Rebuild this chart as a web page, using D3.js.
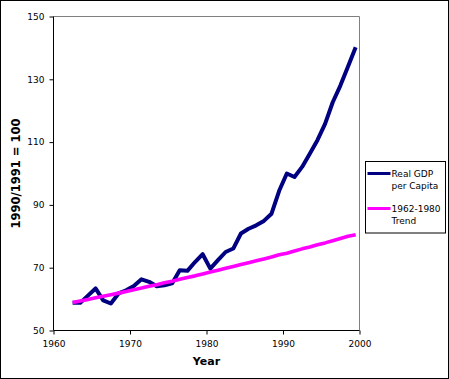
<!DOCTYPE html>
<html>
<head>
<meta charset="utf-8">
<script src="https://cdn.jsdelivr.net/npm/d3@7"></script>
<style>
  html, body { margin: 0; padding: 0; background: #fff; }
  svg { display: block; }
  text { font-family: "DejaVu Sans", sans-serif; }
</style>
</head>
<body>
<svg id="chart" width="449" height="379"></svg>
<script>
// ---- data ----
const years = [1962,1963,1964,1965,1966,1967,1968,1969,1970,1971,1972,1973,1974,1975,1976,1977,1978,1979,1980,
               1981,1982,1983,1984,1985,1986,1987,1988,1989,1990,1991,1992,1993,1994,1995,1996,1997,1998,1999];
const realGdp = [58.8,58.8,61.1,63.4,59.6,58.6,61.8,62.8,64.2,66.3,65.5,64.1,64.4,65.0,69.2,69.0,71.8,74.3,69.7,
                 72.4,75.0,76.1,80.9,82.4,83.5,84.9,87.2,94.5,100.0,98.9,102.1,106.3,110.6,115.8,122.7,128.0,134.1,140.2];
const trend = [58.9,59.4,59.9,60.4,60.9,61.4,61.9,62.4,63.0,63.5,64.1,64.6,65.2,65.7,66.3,66.9,67.4,68.0,68.6,
               69.2,69.8,70.4,71.0,71.6,72.2,72.8,73.4,74.1,74.6,75.3,76.0,76.6,77.3,77.9,78.6,79.3,80.0,80.5];
const xTicks = [1960, 1970, 1980, 1990, 2000];
const yTicks = [50, 70, 90, 110, 130, 150];
const seriesNames = ["Real GDP per Capita", "1962-1980 Trend"];
const legendLines = [["Real GDP", "per Capita"], ["1962-1980", "Trend"]];
const colors = ["#000080", "#FF00FF"];

// ---- layout ----
const svg = d3.select("#chart");
const L = 53.5, R = 359.5, T = 16.5, B = 330.5;
const x = d3.scaleLinear().domain([1960, 2000]).range([L, R]);
const y = d3.scaleLinear().domain([50, 150]).range([B, T]);

// outer frame
svg.append("rect").attr("x", 0.5).attr("y", 0.5).attr("width", 448).attr("height", 378)
  .attr("fill", "#fff").attr("stroke", "#000").attr("stroke-width", 1);

// plot area top/right border (gray)
svg.append("path")
  .attr("d", `M${L},${T}H${R}V${B}`)
  .attr("fill", "none").attr("stroke", "#808080").attr("stroke-width", 1);

// axes
const yAxis = svg.append("g").attr("transform", `translate(${L},0)`)
  .call(d3.axisLeft(y).tickValues(yTicks).tickSize(4).tickSizeOuter(0).tickPadding(5));
const xAxis = svg.append("g").attr("transform", `translate(0,${B})`)
  .call(d3.axisBottom(x).tickValues(xTicks).tickFormat(d3.format("d")).tickSize(4).tickSizeOuter(0).tickPadding(6));
[yAxis, xAxis].forEach(g => {
  g.selectAll("text").attr("font-family", "DejaVu Sans, sans-serif").attr("font-size", 9).attr("fill", "#000");
  g.selectAll("line").attr("stroke", "#000");
  g.select(".domain").attr("stroke", "#000");
});
yAxis.select(".domain").attr("d", `M0,${B}V${T}`);
xAxis.select(".domain").attr("d", `M${L},0H${R}`);

// axis titles
svg.append("text")
  .attr("transform", `translate(19.5,${(T + B) / 2}) rotate(-90)`)
  .attr("text-anchor", "middle")
  .attr("font-size", 11.5).attr("font-weight", "bold")
  .text("1990/1991 = 100");
svg.append("text")
  .attr("x", (L + R) / 2).attr("y", 365)
  .attr("text-anchor", "middle")
  .attr("font-size", 11).attr("font-weight", "bold")
  .text("Year");

// lines (plotted at mid-year)
const line = d3.line().x(d => x(d[0] + 0.5)).y(d => y(d[1]));
const series = [realGdp, trend];
series.forEach((vals, i) => {
  svg.append("path")
    .datum(years.map((yr, j) => [yr, vals[j]]))
    .attr("d", line)
    .attr("fill", "none")
    .attr("stroke", colors[i])
    .attr("stroke-width", i === 0 ? 4 : 3.6)
    .attr("stroke-linejoin", "round");
});

// legend
const lg = svg.append("g").attr("transform", "translate(365.5,161.5)");
lg.append("rect").attr("width", 80).attr("height", 71.5)
  .attr("fill", "#fff").attr("stroke", "#000").attr("stroke-width", 1);
legendLines.forEach((lines, i) => {
  const gy = 12 + i * 35;
  lg.append("line").attr("x1", 2).attr("x2", 25).attr("y1", gy).attr("y2", gy)
    .attr("stroke", colors[i]).attr("stroke-width", 3);
  lines.forEach((t, k) => {
    lg.append("text").attr("x", 26).attr("y", gy + 3.3 + k * 11.7)
      .attr("font-size", 9).attr("fill", "#000").text(t);
  });
});
</script>
</body>
</html>
